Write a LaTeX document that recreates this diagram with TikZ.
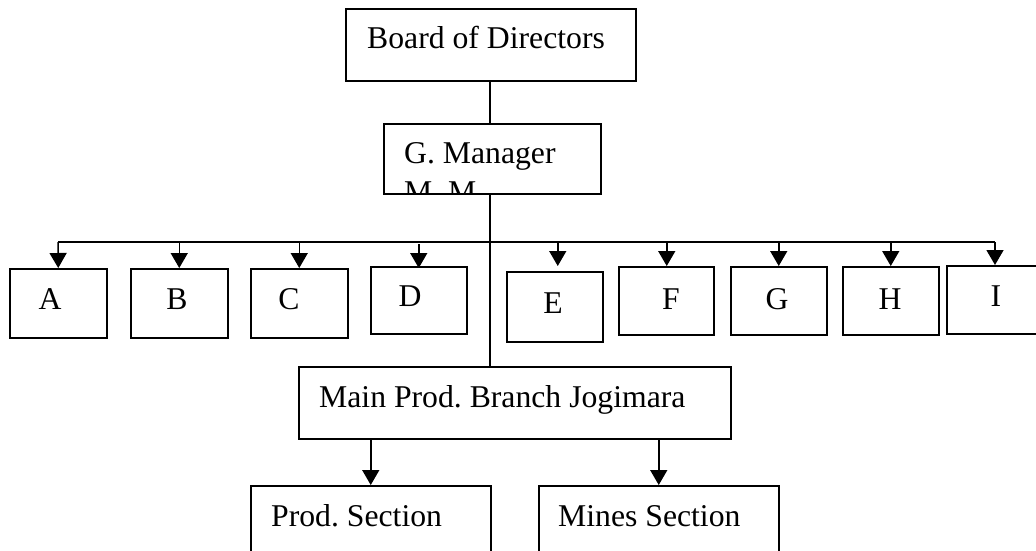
\documentclass[tikz,border=0pt]{standalone}
\usepackage{fontspec}
\setmainfont{Liberation Serif}
\frenchspacing
\usetikzlibrary{arrows.meta}
\tikzset{
  box/.style={draw=black, line width=1.5pt, rectangle, inner sep=0pt, anchor=north west},
  txt/.style={inner sep=0pt, font=\fontsize{31.7}{38}\selectfont\frenchspacing, text=black},
  conn/.style={draw=black, line width=1.5pt},
  arr/.style={conn, -{Triangle[width=17pt,length=15pt]}}
}
\begin{document}
\begin{tikzpicture}[x=1pt,y=-1pt]
\clip (0,0) rectangle (1036,550);
\fill[white] (0,0) rectangle (1036,550);
% top
\node[box, minimum width=290pt, minimum height=72pt] (bod) at (345,8) {};
\node[txt, anchor=base west] (bodT) at (367,48) {Board of Directors};
\node[box, minimum width=217pt, minimum height=70pt] (gm) at (383,123) {};
\node[txt, anchor=base west] (gmT) at (404,163) {G. Manager};
\begin{scope}
\clip (383,123) rectangle (600,193);
\node[txt, anchor=base west] (gmT2) at (404,202) {M. M.};
\end{scope}
% row of departments
\node[box, minimum width=97pt, minimum height=69pt] (A) at (9,268) {};
\node[box, minimum width=97pt, minimum height=69pt] (B) at (130,268) {};
\node[box, minimum width=97pt, minimum height=69pt] (C) at (250,268) {};
\node[box, minimum width=96pt, minimum height=67pt] (D) at (370,266) {};
\node[box, minimum width=96pt, minimum height=70pt] (E) at (506,271) {};
\node[box, minimum width=95pt, minimum height=68pt] (F) at (618,266) {};
\node[box, minimum width=96pt, minimum height=68pt] (G) at (730,266) {};
\node[box, minimum width=96pt, minimum height=68pt] (H) at (842,266) {};
\node[box, minimum width=110pt, minimum height=68pt] (I) at (946,265) {};
\node[txt, anchor=base] (At) at (50,309) {A};
\node[txt, anchor=base] (Bt) at (177,309) {B};
\node[txt, anchor=base] (Ct) at (289,309) {C};
\node[txt, anchor=base] (Dt) at (410,306) {D};
\node[txt, anchor=base] (Et) at (553,313) {E};
\node[txt, anchor=base] (Ft) at (671,309) {F};
\node[txt, anchor=base] (Gt) at (777,309) {G};
\node[txt, anchor=base] (Ht) at (890,309) {H};
\node[txt, anchor=base] (It) at (996,306) {I};
% bottom
\node[box, minimum width=432pt, minimum height=72pt] (main) at (298,366) {};
\node[txt, anchor=base west] (mainT) at (319,407) {Main Prod. Branch Jogimara};
\node[box, minimum width=240pt, minimum height=120pt] (prod) at (250,485) {};
\node[txt, anchor=base west] (prodT) at (271,526) {Prod. Section};
\node[box, minimum width=240pt, minimum height=120pt] (mines) at (538,485) {};
\node[txt, anchor=base west] (minesT) at (558,526) {Mines Section};
% bus
\coordinate (spine) at (490,242);
\coordinate (busL) at (58,242);
\coordinate (busR) at (995,242);
% connectors
\draw[conn] (spine |- bod.south) -- (spine |- gm.north);
\draw[conn] (spine |- gm.south) -- (spine |- main.north);
\draw[conn] (busL) -- (busR);
\draw[arr] (busL) -- (A.north);
\draw[arr] (B.north |- spine) -- (B.north);
\draw[arr] (C.north |- spine) -- (C.north);
\draw[arr] ([yshift=-2pt]D.north |- spine) -- ([yshift=-2pt]D.north);
\draw[arr] ([xshift=3pt]E.north |- spine) -- ([xshift=3pt,yshift=5pt]E.north);
\draw[arr] ([xshift=0.5pt]F.north |- spine) -- ([xshift=0.5pt]F.north);
\draw[arr] (G.north |- spine) -- (G.north);
\draw[arr] (H.north |- spine) -- (H.north);
\draw[arr] (busR) -- (busR |- I.north);
\draw[arr] (prod.north |- main.south) -- (prod.north);
\draw[arr] (mines.north |- main.south) -- (mines.north);
\end{tikzpicture}
\end{document}
